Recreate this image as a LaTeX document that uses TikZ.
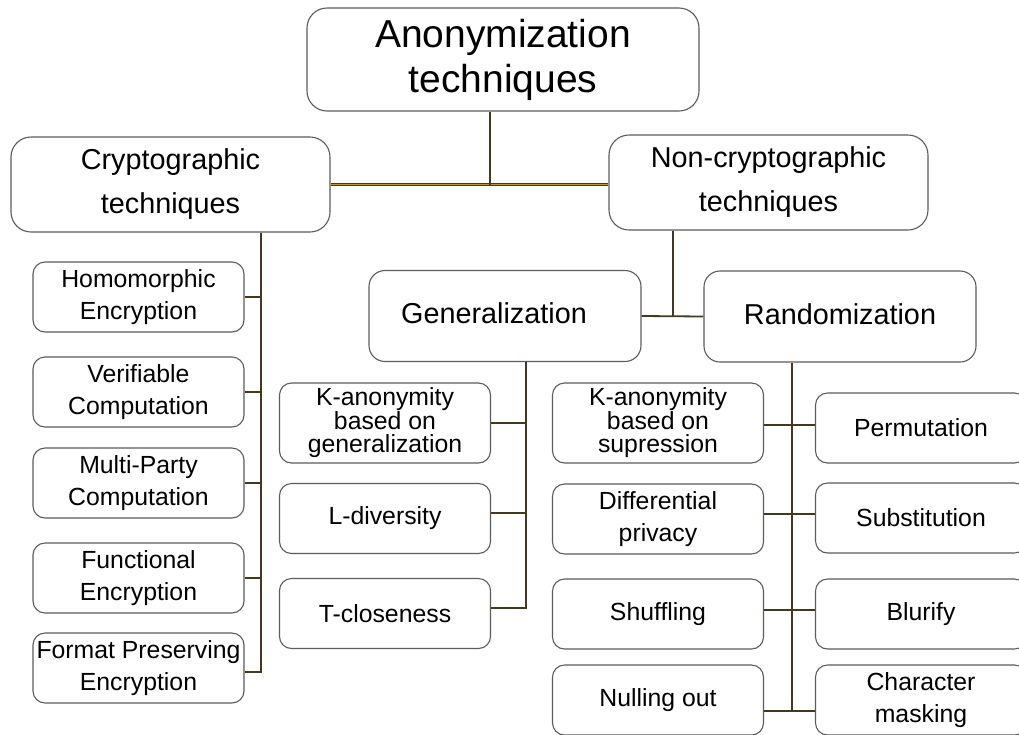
\documentclass[tikz,border=0pt]{standalone}
\usepackage{fontspec}
\setmainfont{Liberation Sans}
\definecolor{boxgray}{HTML}{5C5C5C}
\definecolor{wire}{HTML}{43391C}
\definecolor{goldline}{HTML}{C89A00}
\begin{document}
\begin{tikzpicture}[x=1pt,y=-1pt,
  box/.style={draw=boxgray, line width=1.1pt, fill=white, align=center,
              inner sep=0pt, text=black},
  bigbox/.style={box, rounded corners=20pt},
  midbox/.style={box, rounded corners=16pt, minimum width=272pt, minimum height=91pt,
                 font=\fontsize{28.8}{46}\selectfont},
  leaf/.style={box, rounded corners=12pt, minimum width=211pt, minimum height=70pt,
               font=\fontsize{24.8}{32}\selectfont},
  tight/.style={font=\fontsize{24.8}{23}\selectfont},
  conn/.style={draw=wire, line width=1.8pt},
  goldconn/.style={draw=wire, line width=0.8pt, double=goldline, double distance=1.6pt}
]
\useasboundingbox (0,0) rectangle (1019,734);
\clip (0,0) rectangle (1019,734);
\fill[white] (0,0) rectangle (1019,734);

% top levels
\node[bigbox, minimum width=392pt, minimum height=103pt,
      font=\fontsize{39}{45}\selectfont] (root) at (503,59.5) {Anonymization\\techniques};
\node[bigbox, minimum width=319pt, minimum height=95pt,
      font=\fontsize{28.8}{46}\selectfont] (crypto) at (170.5,184.5) {\raisebox{-2pt}{Cryptographic}\\techniques};
\node[bigbox, minimum width=319pt, minimum height=95pt,
      font=\fontsize{28.8}{46}\selectfont] (noncrypto) at (768.5,182.5) {\raisebox{-2pt}{Non-cryptographic}\\techniques};
\node[midbox] (gen) at (505,316) {\raisebox{5pt}{Generalization}\hspace*{22pt}};
\node[midbox] (rand) at (840,316.5) {\raisebox{4pt}{Randomization}};

% cryptographic techniques
\node[leaf] (he)  at (138.5,297) {Homomorphic\\Encryption};
\node[leaf] (vc)  at (138.5,392) {Verifiable\\Computation};
\node[leaf] (mpc) at (138.5,483) {Multi-Party\\Computation};
\node[leaf] (fe)  at (138.5,578) {Functional\\Encryption};
\node[leaf] (fpe) at (138.5,668) {Format Preserving\\Encryption};

% generalization
\node[leaf, tight, minimum height=80pt] (kgen) at (385,423) {K-anonymity\\based on\\generalization};
\node[leaf] (ldiv) at (385,518.5) {L-diversity};
\node[leaf] (tclo) at (385,613.5) {T-closeness};

% randomization, inner column
\node[leaf, tight, minimum height=80pt] (ksup) at (658,423) {K-anonymity\\based on\\supression};
\node[leaf] (dp)   at (658,519) {Differential\\privacy};
\node[leaf] (shuf) at (658,614) {Shuffling};
\node[leaf] (null) at (658,700) {Nulling out};

% randomization, outer column
\node[leaf] (perm) at (921,428) {Permutation};
\node[leaf] (subs) at (921,518) {Substitution};
\node[leaf] (blur) at (921,614) {Blurify};
\node[leaf] (cmask) at (921,700) {Character\\masking};

% root and first split
\draw[goldconn] (crypto.east) -- (crypto.east -| noncrypto.west);
\draw[conn] ([xshift=-13pt]root.south) -- ([xshift=-13pt]root.south |- crypto.east);

% cryptographic bus
\coordinate (cb) at ([xshift=90.5pt]crypto.south);
\coordinate (fpeend) at ([yshift=-4pt]fpe.east);
\draw[conn] (cb) |- (fpeend);
\foreach \n in {he,vc,mpc,fe} \draw[conn] (\n.east) -- (\n.east -| cb);

% non-cryptographic split
\draw[conn] (gen.east) -- (rand.west);
\draw[conn] ([xshift=-95.5pt]noncrypto.south) -- ([xshift=-95.5pt]noncrypto.south |- gen.east);

% generalization bus
\coordinate (gb) at ([xshift=21pt]gen.south);
\coordinate (tend) at ([yshift=5.5pt]tclo.east);
\coordinate (lend) at ([yshift=5.5pt]ldiv.east);
\draw[conn] (gb) |- (tend);
\draw[conn] (kgen.east) -- (kgen.east -| gb);
\draw[conn] (lend) -- (lend -| gb);

% randomization bus
\coordinate (rb) at ([xshift=-48pt]rand.south);
\coordinate (r1) at ([yshift=-2pt]ksup.east);
\coordinate (r2) at ([yshift=5pt]dp.east);
\coordinate (r3) at ([yshift=4pt]shuf.east);
\coordinate (r4) at ([yshift=-11pt]null.east);
\draw[conn] (rb) -- (rb |- r4);
\draw[conn] (r1) -- (r1 -| perm.west);
\draw[conn] (r2) -- (r2 -| subs.west);
\draw[conn] (r3) -- (r3 -| blur.west);
\draw[conn] (r4) -- (r4 -| cmask.west);
\end{tikzpicture}
\end{document}
